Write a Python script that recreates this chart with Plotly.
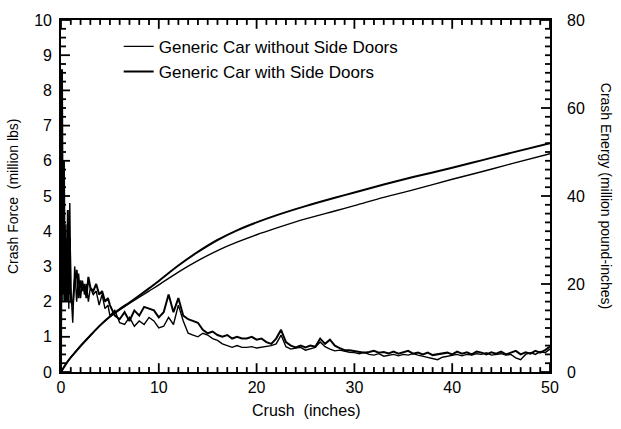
import plotly.graph_objects as go

# ---- crush force (million lbs) vs crush (inches) ----
force_x_without = [0, 0.1, 0.2, 0.3, 0.4, 0.5, 0.6, 0.7, 0.8, 0.9, 1.0, 1.2, 1.4, 1.6, 1.8,
                   2.0, 2.2, 2.4, 2.6, 2.8, 3.0, 3.3, 3.6, 3.9, 4.2, 4.5, 4.8,
                   5.0, 5.5, 6.0, 6.5, 7.0, 7.5, 8.0, 8.5, 9.0, 9.5, 10.0, 10.5, 11.0, 11.5,
                   12.0, 12.5, 13.0, 13.5, 14.0, 14.5, 15.0, 15.5, 16.0, 16.5, 17.0, 17.5,
                   18.0, 18.5, 19.0, 19.5, 20.0, 20.5, 21.0, 21.5, 22.0, 22.5, 23.0, 23.5,
                   24.0, 24.5, 25.0, 25.5, 26.0, 26.5, 27.0, 27.5, 28.0, 28.5, 29.0, 29.5,
                   30.0, 30.5, 31.0, 31.5, 32.0, 32.5, 33.0, 33.5, 34.0, 34.5, 35.0, 35.5,
                   36.0, 36.5, 37.0, 37.5, 38.0, 38.5, 39.0, 39.5, 40.0, 40.5, 41.0, 41.5,
                   42.0, 42.5, 43.0, 43.5, 44.0, 44.5, 45.0, 45.5, 46.0, 46.5, 47.0, 47.5,
                   48.0, 48.5, 49.0, 49.5, 50.0]
force_without = [0, 6.0, 2.0, 5.0, 2.6, 4.2, 2.0, 3.6, 1.8, 4.8, 2.4, 1.4, 3.0, 2.0, 2.8,
                 2.1, 2.6, 2.2, 2.5, 2.0, 2.4, 2.2, 2.3, 1.9, 2.2, 1.8, 1.9,
                 1.6, 1.75, 1.4, 1.35, 1.55, 1.3, 1.45, 1.35, 1.55, 1.45, 1.25, 1.3, 1.55, 1.35,
                 1.9, 1.45, 1.1, 1.05, 1.0, 1.1, 1.05, 0.95, 0.9, 0.8, 0.75, 0.7,
                 0.75, 0.7, 0.7, 0.72, 0.68, 0.7, 0.72, 0.75, 0.8, 1.05, 0.72, 0.65,
                 0.68, 0.7, 0.62, 0.65, 0.7, 0.85, 0.72, 0.65, 0.6, 0.62, 0.58, 0.56,
                 0.55, 0.52, 0.56, 0.5, 0.48, 0.52, 0.45, 0.48, 0.5, 0.46, 0.5, 0.48,
                 0.52, 0.48, 0.45, 0.42, 0.38, 0.35, 0.42, 0.45, 0.48, 0.5, 0.46, 0.5,
                 0.48, 0.52, 0.5, 0.55, 0.48, 0.5, 0.52, 0.48, 0.5, 0.4, 0.35, 0.5,
                 0.55, 0.5, 0.58, 0.55, 0.65]

force_x_with = list(force_x_without)
force_with = [0, 8.6, 2.2, 6.0, 2.0, 3.8, 2.0, 4.6, 2.2, 3.8, 2.0, 1.9, 2.6, 2.9, 2.1,
              2.6, 2.3, 2.5, 2.1, 2.7, 2.4, 2.3, 2.5, 2.2, 2.3, 2.0, 2.1,
              1.9, 1.6, 1.5, 1.7, 1.45, 1.75, 1.6, 1.85, 1.8, 1.75, 1.55, 1.7, 2.2, 1.7,
              2.1, 1.6, 1.5, 1.45, 1.4, 1.2, 1.1, 1.15, 1.05, 1.0, 1.05, 0.95,
              1.0, 0.95, 0.95, 1.0, 0.92, 0.95, 0.85, 0.8, 0.95, 1.2, 0.85, 0.75,
              0.7, 0.75, 0.7, 0.75, 0.72, 0.95, 0.8, 0.92, 0.75, 0.68, 0.62, 0.62,
              0.6, 0.58, 0.55, 0.57, 0.6, 0.55, 0.57, 0.53, 0.58, 0.52, 0.56, 0.6,
              0.52, 0.55, 0.5, 0.55, 0.48, 0.5, 0.52, 0.55, 0.5, 0.58, 0.52, 0.56,
              0.5, 0.58, 0.55, 0.5, 0.56, 0.52, 0.58, 0.5, 0.55, 0.6, 0.5, 0.56,
              0.52, 0.6, 0.55, 0.62, 0.72]

# ---- crash energy (million pound-inches) vs crush (inches) ----
energy_x = [0, 0.5, 1, 1.5, 2, 3, 4, 5, 6, 7, 8, 9, 10, 12, 14, 16, 18, 20, 22, 25,
            28, 30, 33, 36, 40, 43, 46, 50]
energy_with = [0, 1.8, 3.3, 4.6, 5.9, 8.3, 10.6, 12.6, 14.3, 15.8, 17.4, 19.0, 20.7, 24.2,
               27.3, 30.0, 32.2, 34.0, 35.6, 37.7, 39.6, 40.8, 42.6, 44.3, 46.4, 48.1,
               49.8, 52.0]
energy_without = [0, 1.8, 3.3, 4.6, 5.9, 8.3, 10.6, 12.5, 14.1, 15.6, 17.0, 18.4, 19.8, 22.7,
                  25.3, 27.6, 29.5, 31.2, 32.7, 34.8, 36.6, 37.8, 39.7, 41.4, 43.8, 45.5,
                  47.3, 49.6]

series_names = ["Generic Car without Side Doors", "Generic Car with Side Doors"]

# axis scales and tick spacing
X_RANGE, X_MAJOR, X_MINOR = (0, 50), 10, 1
Y_RANGE, Y_MAJOR, Y_MINOR = (0, 10), 1, 0.25
Y2_RANGE, Y2_MAJOR, Y2_MINOR = (0, 80), 20, 2

# figure geometry
W, H = 621, 429
M = dict(l=61, r=71, t=12, b=57)
PLOT_W = W - M["l"] - M["r"]
PLOT_H = H - M["t"] - M["b"]

FONT = "Liberation Sans, Arial, Helvetica, sans-serif"
INK = "black"

fig = go.Figure()

# thin line: car without side doors
fig.add_trace(go.Scatter(x=force_x_without, y=force_without, mode="lines",
                         name=series_names[0], legendgroup="a",
                         line=dict(color=INK, width=1.4), xaxis="x", yaxis="y"))
fig.add_trace(go.Scatter(x=energy_x, y=energy_without, mode="lines",
                         name=series_names[0], legendgroup="a", showlegend=False,
                         line=dict(color=INK, width=1.4, shape="spline"),
                         xaxis="x", yaxis="y2"))
# heavier line: car with side doors
fig.add_trace(go.Scatter(x=force_x_with, y=force_with, mode="lines",
                         name=series_names[1], legendgroup="b",
                         line=dict(color=INK, width=2.0), xaxis="x", yaxis="y"))
fig.add_trace(go.Scatter(x=energy_x, y=energy_with, mode="lines",
                         name=series_names[1], legendgroup="b", showlegend=False,
                         line=dict(color=INK, width=2.0, shape="spline"),
                         xaxis="x", yaxis="y2"))


def count(lo, hi, step):
    n = int(round((hi - lo) / step))
    return [lo + i * step for i in range(n + 1)]


def is_multiple(v, step):
    return abs(v / step - round(v / step)) < 1e-6


# inward tick marks on the frame, as short line segments (pixel lengths
# converted to axis units)
x_per_px = (X_RANGE[1] - X_RANGE[0]) / PLOT_W
y_per_px = (Y_RANGE[1] - Y_RANGE[0]) / PLOT_H
MAJOR_PX, MINOR_PX = 9, 5

tx, ty = [], []
for v in count(*X_RANGE, X_MINOR):
    ln = (MAJOR_PX if is_multiple(v, X_MAJOR) else MINOR_PX) * y_per_px
    tx += [v, v, None, v, v, None]
    ty += [Y_RANGE[0], Y_RANGE[0] + ln, None, Y_RANGE[1], Y_RANGE[1] - ln, None]
for v in count(*Y_RANGE, Y_MINOR):
    ln = (MAJOR_PX if is_multiple(v, Y_MAJOR) else MINOR_PX) * x_per_px
    tx += [X_RANGE[0], X_RANGE[0] + ln, None]
    ty += [v, v, None]
rx, ry = [], []
for v in count(*Y2_RANGE, Y2_MINOR):
    ln = (MAJOR_PX if is_multiple(v, Y2_MAJOR) else MINOR_PX) * x_per_px
    rx += [X_RANGE[1], X_RANGE[1] - ln, None]
    ry += [v, v, None]

tick_style = dict(color=INK, width=1.8)
fig.add_trace(go.Scatter(x=tx, y=ty, mode="lines", line=tick_style, showlegend=False,
                         hoverinfo="skip", cliponaxis=False, xaxis="x", yaxis="y"))
fig.add_trace(go.Scatter(x=rx, y=ry, mode="lines", line=tick_style, showlegend=False,
                         hoverinfo="skip", cliponaxis=False, xaxis="x", yaxis="y2"))

tick_font = dict(family=FONT, size=16, color=INK)
frame = dict(showgrid=False, zeroline=False, showline=True, linecolor=INK,
             linewidth=1.6, ticks="", tickfont=tick_font)

fig.update_layout(
    width=W, height=H,
    margin=M,
    paper_bgcolor="white", plot_bgcolor="white",
    font=dict(family=FONT, size=16, color=INK),
    showlegend=True,
    legend=dict(x=0.118, y=0.975, xanchor="left", yanchor="top",
                bgcolor="rgba(0,0,0,0)", itemwidth=30, tracegroupgap=0,
                font=dict(family=FONT, size=17, color=INK)),
    xaxis=dict(range=list(X_RANGE), dtick=X_MAJOR, mirror=True, **frame),
    yaxis=dict(range=list(Y_RANGE), dtick=Y_MAJOR, ticklabelstandoff=4, **frame),
    yaxis2=dict(range=list(Y2_RANGE), dtick=Y2_MAJOR, overlaying="y", side="right",
                anchor="x", ticklabelstandoff=12, **frame),
    annotations=[
        dict(text="Crash Force  (million lbs)", xref="paper", yref="paper",
             x=-0.098, y=0.5, xanchor="center", yanchor="middle", textangle=-90,
             showarrow=False, font=dict(family=FONT, size=14, color=INK)),
        dict(text="Crash Energy (million pound-inches)", xref="paper", yref="paper",
             x=1.115, y=0.5, xanchor="center", yanchor="middle", textangle=90,
             showarrow=False, font=dict(family=FONT, size=14, color=INK)),
        dict(text="Crush  (inches)", xref="paper", yref="paper",
             x=0.5, y=-0.08, xanchor="center", yanchor="top",
             showarrow=False, font=dict(family=FONT, size=16, color=INK)),
    ],
)

fig.write_html("out.html")
